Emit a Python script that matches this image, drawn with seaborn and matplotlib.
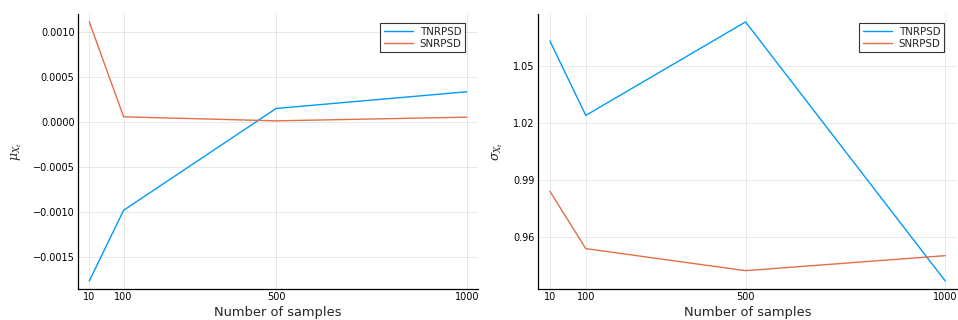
import numpy as np
import pandas as pd
import matplotlib
matplotlib.use("Agg")
import matplotlib.pyplot as plt
import seaborn as sns
from matplotlib.ticker import FixedLocator, FuncFormatter

samples = [10, 100, 500, 1000]
series_names = ["TNRPSD", "SNRPSD"]
mu_tnrpsd = [-0.00177, -0.000982, 0.000153, 0.000339]
mu_snrpsd = [0.001118, 0.000060, 0.000015, 0.000056]
sigma_tnrpsd = [1.0630, 1.0238, 1.0730, 0.9367]
sigma_snrpsd = [0.9839, 0.9537, 0.9421, 0.9500]
mu_ticks = [-0.0015, -0.0010, -0.0005, 0.0, 0.0005, 0.0010]
sigma_ticks = [0.96, 0.99, 1.02, 1.05]
x_ticks = [10, 100, 500, 1000]

sns.set_theme(style="white")
plt.rcParams['font.family'] = ['DejaVu Sans']
plt.rcParams['mathtext.fontset'] = 'dejavuserif'

palette = {"TNRPSD": "#009AFA", "SNRPSD": "#E36F47"}

def long_df(a, b):
    return pd.DataFrame({
        "n": samples * 2,
        "value": list(a) + list(b),
        "series": [series_names[0]] * len(samples) + [series_names[1]] * len(samples),
    })

fig = plt.figure(figsize=(9.58, 3.2), dpi=100)
ax1 = fig.add_axes([0.0814, 0.0978, 0.4176, 0.858])
ax2 = fig.add_axes([0.5616, 0.0978, 0.4374, 0.858])

def pad(vals, frac=0.03):
    lo, hi = min(vals), max(vals)
    r = hi - lo
    return lo - frac * r, hi + frac * r

def style(ax, yticks, fmt, ylabel, leg_right):
    ax.set_xlim(*pad(samples))
    ax.xaxis.set_major_locator(FixedLocator(x_ticks))
    ax.yaxis.set_major_locator(FixedLocator(yticks))
    ax.yaxis.set_major_formatter(FuncFormatter(lambda v, p: (fmt % v).replace('-', '\u2212')))
    ax.grid(True, color='black', alpha=0.1, linewidth=0.6)
    for s in ['top', 'right']:
        ax.spines[s].set_visible(False)
    for s in ['left', 'bottom']:
        ax.spines[s].set_color('black')
        ax.spines[s].set_linewidth(0.9)
    ax.tick_params(direction='in', length=3, width=0.6, labelsize=7, colors='black', pad=2.5)
    ax.set_xlabel("Number of samples", fontsize=9.4, labelpad=2.5)
    ax.set_ylabel(ylabel, fontsize=9, labelpad=6)
    leg = ax.legend(loc='upper right', bbox_to_anchor=(leg_right, 0.967), fontsize=7.4,
                    frameon=True, fancybox=False, edgecolor='black', handlelength=2.9,
                    borderpad=0.35, labelspacing=0.2, handletextpad=0.6, borderaxespad=0)
    leg.get_frame().set_linewidth(0.8)
    ax.set_facecolor('white')

sns.lineplot(data=long_df(mu_tnrpsd, mu_snrpsd), x="n", y="value", hue="series",
             palette=palette, linewidth=1.0, ax=ax1)
ax1.set_ylim(*pad(mu_tnrpsd + mu_snrpsd))
style(ax1, mu_ticks, "%.4f", r"$\mu_{X_t}$", 0.9675)

sns.lineplot(data=long_df(sigma_tnrpsd, sigma_snrpsd), x="n", y="value", hue="series",
             palette=palette, linewidth=1.0, ax=ax2)
ax2.set_ylim(*pad(sigma_tnrpsd + sigma_snrpsd))
style(ax2, sigma_ticks, "%.2f", r"$\sigma_{X_t}$", 0.969)

fig.savefig("out.png", dpi=100, facecolor='white')
